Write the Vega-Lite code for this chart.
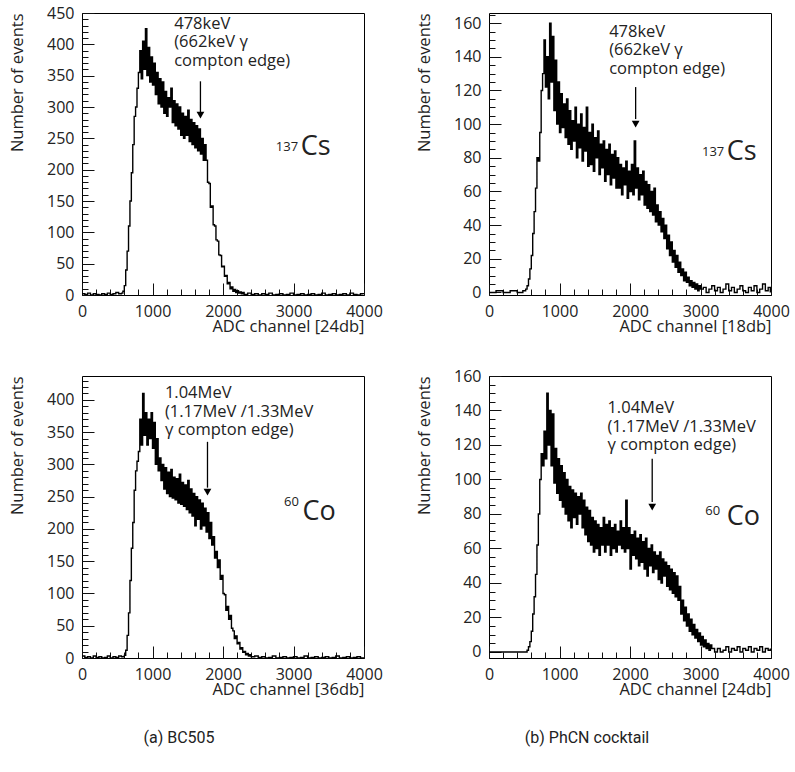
{
"$schema": "https://vega.github.io/schema/vega-lite/v6.json",
"background": "white",
"padding": {"left": 8, "top": 4, "right": 5, "bottom": 5},
"datasets": {
"p1": [{"x":0,"y":2},{"x":40,"y":1},{"x":80,"y":3},{"x":120,"y":0},{"x":160,"y":2},{"x":200,"y":1},{"x":240,"y":0},{"x":280,"y":2},{"x":320,"y":1},{"x":360,"y":3},{"x":400,"y":1},{"x":440,"y":2},{"x":480,"y":4},{"x":520,"y":2},{"x":560,"y":3},{"x":580,"y":6},
{"x":600,"y":15},{"x":620,"y":40},{"x":640,"y":70},{"x":660,"y":110},{"x":680,"y":150},{"x":700,"y":195},{"x":720,"y":240},{"x":740,"y":285},{"x":760,"y":300},{"x":780,"y":330},{"x":800,"y":355},
{"x":820,"y":390},{"x":840,"y":345},{"x":860,"y":405},{"x":880,"y":360},{"x":900,"y":425},{"x":920,"y":350},{"x":940,"y":395},{"x":960,"y":340},{"x":980,"y":380},{"x":1000,"y":335},
{"x":1020,"y":370},{"x":1040,"y":320},{"x":1060,"y":355},{"x":1080,"y":305},{"x":1100,"y":345},{"x":1120,"y":300},{"x":1140,"y":340},{"x":1160,"y":290},{"x":1180,"y":325},{"x":1200,"y":285},{"x":1220,"y":315},{"x":1240,"y":300},{"x":1260,"y":330},{"x":1280,"y":275},{"x":1300,"y":310},
{"x":1320,"y":270},{"x":1340,"y":305},{"x":1360,"y":265},{"x":1380,"y":300},{"x":1400,"y":255},{"x":1420,"y":290},{"x":1440,"y":250},{"x":1460,"y":285},{"x":1480,"y":255},{"x":1500,"y":295},{"x":1520,"y":245},{"x":1540,"y":280},{"x":1560,"y":240},{"x":1580,"y":275},{"x":1600,"y":235},
{"x":1620,"y":270},{"x":1640,"y":230},{"x":1660,"y":265},{"x":1680,"y":225},{"x":1700,"y":250},{"x":1720,"y":215},{"x":1740,"y":240},
{"x":1760,"y":215},{"x":1780,"y":180},{"x":1800,"y":178},{"x":1820,"y":140},{"x":1840,"y":142},{"x":1860,"y":112},{"x":1880,"y":110},{"x":1900,"y":88},{"x":1920,"y":86},{"x":1940,"y":64},{"x":1960,"y":63},{"x":1980,"y":45},{"x":2000,"y":46},{"x":2020,"y":30},{"x":2040,"y":31},{"x":2060,"y":18},{"x":2080,"y":20},{"x":2100,"y":10},{"x":2120,"y":13},{"x":2140,"y":6},{"x":2160,"y":9},{"x":2180,"y":4},{"x":2200,"y":7},{"x":2220,"y":3},{"x":2240,"y":5},{"x":2260,"y":2},{"x":2280,"y":4},{"x":2300,"y":1},
{"x":2350,"y":3},{"x":2400,"y":1},{"x":2450,"y":2},{"x":2500,"y":0},{"x":2550,"y":2},{"x":2600,"y":1},{"x":2650,"y":3},{"x":2700,"y":0},{"x":2750,"y":1},{"x":2800,"y":2},{"x":2850,"y":0},{"x":2900,"y":1},{"x":2950,"y":3},{"x":3000,"y":0},{"x":3050,"y":1},{"x":3100,"y":2},{"x":3150,"y":0},{"x":3200,"y":1},{"x":3250,"y":2},{"x":3300,"y":0},{"x":3350,"y":1},{"x":3400,"y":3},{"x":3450,"y":0},{"x":3500,"y":1},{"x":3550,"y":2},{"x":3600,"y":0},{"x":3650,"y":1},{"x":3700,"y":2},{"x":3750,"y":0},{"x":3800,"y":3},{"x":3850,"y":1},{"x":3900,"y":0},{"x":3950,"y":2},{"x":3990,"y":1}],
"p2": [{"x":0,"y":0},{"x":100,"y":1},{"x":200,"y":0},{"x":300,"y":1},{"x":400,"y":0},{"x":480,"y":1},{"x":520,"y":2},
{"x":540,"y":4},{"x":560,"y":8},{"x":580,"y":14},{"x":600,"y":22},{"x":620,"y":35},{"x":640,"y":48},{"x":660,"y":62},{"x":680,"y":80},{"x":700,"y":78},{"x":720,"y":95},{"x":740,"y":120},{"x":760,"y":130},
{"x":780,"y":150},{"x":800,"y":122},{"x":820,"y":140},{"x":840,"y":115},{"x":860,"y":160},{"x":880,"y":125},{"x":900,"y":152},{"x":920,"y":108},{"x":940,"y":138},{"x":960,"y":100},{"x":980,"y":125},
{"x":1000,"y":95},{"x":1020,"y":118},{"x":1040,"y":98},{"x":1060,"y":112},{"x":1080,"y":92},{"x":1100,"y":115},{"x":1120,"y":88},{"x":1140,"y":108},{"x":1160,"y":85},{"x":1180,"y":102},{"x":1200,"y":90},{"x":1220,"y":110},{"x":1240,"y":80},{"x":1260,"y":100},{"x":1280,"y":86},{"x":1300,"y":106},{"x":1320,"y":78},{"x":1340,"y":98},{"x":1360,"y":84},{"x":1380,"y":110},{"x":1400,"y":75},
{"x":1420,"y":95},{"x":1440,"y":76},{"x":1460,"y":100},{"x":1480,"y":72},{"x":1500,"y":92},{"x":1520,"y":80},{"x":1540,"y":96},{"x":1560,"y":70},{"x":1580,"y":88},{"x":1600,"y":74},{"x":1620,"y":90},{"x":1640,"y":66},{"x":1660,"y":85},{"x":1680,"y":70},{"x":1700,"y":88},{"x":1720,"y":64},{"x":1740,"y":82},{"x":1760,"y":68},{"x":1780,"y":84},{"x":1800,"y":62},
{"x":1820,"y":80},{"x":1840,"y":62},{"x":1860,"y":76},{"x":1880,"y":58},{"x":1900,"y":74},{"x":1920,"y":64},{"x":1940,"y":78},{"x":1960,"y":56},{"x":1980,"y":72},{"x":2000,"y":60},{"x":2020,"y":76},{"x":2040,"y":58},{"x":2060,"y":90},{"x":2080,"y":62},{"x":2100,"y":74},{"x":2120,"y":55},{"x":2140,"y":70},{"x":2160,"y":58},{"x":2180,"y":72},{"x":2200,"y":52},{"x":2220,"y":66},{"x":2240,"y":50},
{"x":2260,"y":64},{"x":2280,"y":48},{"x":2300,"y":60},{"x":2320,"y":46},{"x":2340,"y":62},{"x":2360,"y":42},{"x":2380,"y":52},{"x":2400,"y":40},{"x":2420,"y":48},{"x":2440,"y":36},{"x":2460,"y":44},{"x":2480,"y":32},{"x":2500,"y":40},{"x":2520,"y":26},{"x":2540,"y":34},{"x":2560,"y":22},{"x":2580,"y":30},{"x":2600,"y":18},{"x":2620,"y":25},{"x":2640,"y":15},{"x":2660,"y":22},{"x":2680,"y":12},{"x":2700,"y":18},{"x":2720,"y":10},{"x":2740,"y":14},{"x":2760,"y":7},{"x":2780,"y":12},{"x":2800,"y":6},{"x":2820,"y":9},{"x":2840,"y":4},{"x":2860,"y":7},{"x":2880,"y":3},{"x":2900,"y":6},{"x":2920,"y":2},{"x":2940,"y":5},{"x":2960,"y":1},{"x":2980,"y":4},{"x":3000,"y":2},
{"x":3040,"y":3},{"x":3080,"y":0},{"x":3120,"y":2},{"x":3160,"y":4},{"x":3200,"y":1},{"x":3240,"y":3},{"x":3280,"y":0},{"x":3320,"y":2},{"x":3360,"y":5},{"x":3400,"y":1},{"x":3440,"y":3},{"x":3480,"y":0},{"x":3520,"y":2},{"x":3560,"y":4},{"x":3600,"y":1},{"x":3640,"y":0},{"x":3680,"y":3},{"x":3720,"y":1},{"x":3760,"y":4},{"x":3800,"y":0},{"x":3840,"y":2},{"x":3880,"y":5},{"x":3920,"y":1},{"x":3960,"y":3},{"x":3990,"y":0}],
"p3": [{"x":0,"y":3},{"x":40,"y":1},{"x":80,"y":2},{"x":120,"y":0},{"x":160,"y":3},{"x":200,"y":1},{"x":240,"y":2},{"x":280,"y":0},{"x":320,"y":1},{"x":360,"y":3},{"x":400,"y":0},{"x":440,"y":2},{"x":480,"y":1},{"x":520,"y":3},{"x":560,"y":2},{"x":600,"y":4},
{"x":620,"y":12},{"x":640,"y":35},{"x":660,"y":70},{"x":680,"y":120},{"x":700,"y":170},{"x":720,"y":210},{"x":740,"y":260},{"x":760,"y":290},{"x":780,"y":305},{"x":800,"y":320},
{"x":820,"y":370},{"x":840,"y":330},{"x":860,"y":410},{"x":880,"y":345},{"x":900,"y":380},{"x":920,"y":330},{"x":940,"y":370},{"x":960,"y":340},{"x":980,"y":380},{"x":1000,"y":325},{"x":1020,"y":365},
{"x":1040,"y":300},{"x":1060,"y":340},{"x":1080,"y":290},{"x":1100,"y":310},
{"x":1120,"y":275},{"x":1140,"y":300},{"x":1160,"y":262},{"x":1180,"y":295},{"x":1200,"y":255},{"x":1220,"y":288},{"x":1240,"y":250},{"x":1260,"y":292},{"x":1280,"y":248},{"x":1300,"y":280},{"x":1320,"y":245},{"x":1340,"y":278},{"x":1360,"y":240},{"x":1380,"y":285},{"x":1400,"y":238},{"x":1420,"y":272},{"x":1440,"y":235},{"x":1460,"y":268},{"x":1480,"y":230},{"x":1500,"y":275},{"x":1520,"y":225},{"x":1540,"y":262},{"x":1560,"y":220},{"x":1580,"y":255},{"x":1600,"y":205},{"x":1620,"y":250},{"x":1640,"y":215},{"x":1660,"y":245},{"x":1680,"y":200},{"x":1700,"y":240},{"x":1720,"y":205},{"x":1740,"y":232},{"x":1760,"y":195},{"x":1780,"y":225},{"x":1800,"y":185},
{"x":1820,"y":210},{"x":1840,"y":175},{"x":1860,"y":188},{"x":1880,"y":155},{"x":1900,"y":165},{"x":1920,"y":140},{"x":1940,"y":152},{"x":1960,"y":122},{"x":1980,"y":128},{"x":2000,"y":100},{"x":2020,"y":98},{"x":2040,"y":74},{"x":2060,"y":80},{"x":2080,"y":60},{"x":2100,"y":66},{"x":2120,"y":46},{"x":2140,"y":42},{"x":2160,"y":30},{"x":2180,"y":34},{"x":2200,"y":22},{"x":2220,"y":24},{"x":2240,"y":14},{"x":2260,"y":16},{"x":2280,"y":9},{"x":2300,"y":10},{"x":2320,"y":5},{"x":2340,"y":7},{"x":2360,"y":3},{"x":2380,"y":5},{"x":2400,"y":2},
{"x":2450,"y":3},{"x":2500,"y":1},{"x":2550,"y":2},{"x":2600,"y":0},{"x":2650,"y":1},{"x":2700,"y":3},{"x":2750,"y":0},{"x":2800,"y":1},{"x":2850,"y":2},{"x":2900,"y":0},{"x":2950,"y":1},{"x":3000,"y":2},{"x":3050,"y":0},{"x":3100,"y":1},{"x":3150,"y":3},{"x":3200,"y":0},{"x":3250,"y":1},{"x":3300,"y":2},{"x":3350,"y":0},{"x":3400,"y":1},{"x":3450,"y":2},{"x":3500,"y":0},{"x":3550,"y":1},{"x":3600,"y":3},{"x":3650,"y":0},{"x":3700,"y":1},{"x":3750,"y":2},{"x":3800,"y":0},{"x":3850,"y":1},{"x":3900,"y":2},{"x":3950,"y":0},{"x":3990,"y":1}],
"p4": [{"x":0,"y":0},{"x":100,"y":0},{"x":200,"y":0},{"x":300,"y":0},{"x":400,"y":0},{"x":500,"y":0},{"x":540,"y":1},
{"x":560,"y":3},{"x":580,"y":6},{"x":600,"y":12},{"x":620,"y":22},{"x":640,"y":32},{"x":660,"y":45},{"x":680,"y":62},{"x":700,"y":80},{"x":720,"y":100},{"x":740,"y":115},{"x":760,"y":108},{"x":780,"y":128},
{"x":800,"y":112},{"x":820,"y":150},{"x":840,"y":120},{"x":860,"y":140},{"x":880,"y":108},{"x":900,"y":138},{"x":920,"y":98},{"x":940,"y":118},
{"x":960,"y":92},{"x":980,"y":112},{"x":1000,"y":88},{"x":1020,"y":108},{"x":1040,"y":84},{"x":1060,"y":104},{"x":1080,"y":80},{"x":1100,"y":100},{"x":1120,"y":76},{"x":1140,"y":96},{"x":1160,"y":72},{"x":1180,"y":94},{"x":1200,"y":78},{"x":1220,"y":92},{"x":1240,"y":74},{"x":1260,"y":90},{"x":1280,"y":80},{"x":1300,"y":92},{"x":1320,"y":72},{"x":1340,"y":88},
{"x":1360,"y":68},{"x":1380,"y":84},{"x":1400,"y":64},{"x":1420,"y":82},{"x":1440,"y":62},{"x":1460,"y":78},{"x":1480,"y":58},{"x":1500,"y":76},{"x":1520,"y":60},{"x":1540,"y":74},{"x":1560,"y":56},{"x":1580,"y":72},{"x":1600,"y":62},{"x":1620,"y":78},{"x":1640,"y":58},{"x":1660,"y":74},{"x":1680,"y":62},{"x":1700,"y":76},{"x":1720,"y":56},{"x":1740,"y":72},{"x":1760,"y":60},{"x":1780,"y":74},{"x":1800,"y":58},{"x":1820,"y":70},{"x":1840,"y":62},{"x":1860,"y":76},{"x":1880,"y":60},{"x":1900,"y":72},{"x":1920,"y":58},{"x":1940,"y":88},{"x":1960,"y":60},{"x":1980,"y":72},{"x":2000,"y":48},{"x":2020,"y":68},{"x":2040,"y":56},{"x":2060,"y":70},{"x":2080,"y":54},{"x":2100,"y":66},{"x":2120,"y":50},{"x":2140,"y":68},{"x":2160,"y":52},{"x":2180,"y":64},{"x":2200,"y":48},{"x":2220,"y":66},{"x":2240,"y":44},{"x":2260,"y":60},{"x":2280,"y":50},{"x":2300,"y":62},{"x":2320,"y":46},{"x":2340,"y":58},{"x":2360,"y":48},{"x":2380,"y":56},{"x":2400,"y":42},{"x":2420,"y":58},{"x":2440,"y":40},{"x":2460,"y":54},{"x":2480,"y":44},{"x":2500,"y":52},{"x":2520,"y":38},{"x":2540,"y":50},{"x":2560,"y":36},{"x":2580,"y":48},{"x":2600,"y":34},{"x":2620,"y":46},{"x":2640,"y":32},{"x":2660,"y":44},{"x":2680,"y":30},{"x":2700,"y":38},
{"x":2720,"y":22},{"x":2740,"y":30},{"x":2760,"y":18},{"x":2780,"y":26},{"x":2800,"y":15},{"x":2820,"y":22},{"x":2840,"y":12},{"x":2860,"y":19},{"x":2880,"y":10},{"x":2900,"y":16},{"x":2920,"y":8},{"x":2940,"y":13},{"x":2960,"y":6},{"x":2980,"y":11},{"x":3000,"y":4},{"x":3020,"y":9},{"x":3040,"y":3},{"x":3060,"y":7},{"x":3080,"y":2},{"x":3100,"y":5},{"x":3120,"y":1},{"x":3140,"y":4},{"x":3160,"y":2},{"x":3200,"y":0},
{"x":3240,"y":2},{"x":3280,"y":0},{"x":3320,"y":1},{"x":3360,"y":3},{"x":3400,"y":0},{"x":3440,"y":2},{"x":3480,"y":1},{"x":3520,"y":3},{"x":3560,"y":0},{"x":3600,"y":2},{"x":3640,"y":1},{"x":3680,"y":3},{"x":3720,"y":0},{"x":3760,"y":2},{"x":3800,"y":1},{"x":3840,"y":3},{"x":3880,"y":0},{"x":3920,"y":2},{"x":3960,"y":1},{"x":3990,"y":2}]
},
"columns": 2,
"spacing": {"row": 81, "column": 125},
"bounds": "flush",
"concat": [
{
 "width": 282, "height": 282,
 "resolve": {"axis": {"x": "independent", "y": "independent"}},
 "encoding": {
  "x": {"field": "x", "type": "quantitative", "scale": {"domain": [0, 4000], "nice": false, "zero": false}, "axis": null},
  "y": {"field": "y", "type": "quantitative", "scale": {"domain": [0, 450], "nice": false, "zero": false}, "axis": null}
 },
 "layer": [
  {"data": {"name": "p1"}, "mark": {"type": "line", "interpolate": "step-after", "color": "black", "strokeWidth": 1.4},
   "encoding": {
    "x": {"field": "x", "type": "quantitative", "scale": {"domain": [0, 4000], "nice": false, "zero": false},
     "axis": {"orient": "bottom", "title": "ADC channel [24db]", "format": "d", "values": [0,1000,2000,3000,4000], "tickSize": -12}},
    "y": {"field": "y", "type": "quantitative", "scale": {"domain": [0, 450], "nice": false, "zero": false},
     "axis": {"orient": "left", "title": "Number of events", "format": "d", "values": [0,50,100,150,200,250,300,350,400,450], "tickSize": -12}}}},
  {"data": {"values": [{"x": 1680, "y": 341, "y2": 292}]}, "mark": {"type": "rule", "color": "black", "strokeWidth": 1.3},
   "encoding": {
    "x": {"field": "x", "type": "quantitative", "scale": {"domain": [0, 4000], "nice": false, "zero": false},
     "axis": {"orient": "bottom", "title": null, "labels": false, "values": [0,200,400,600,800,1000,1200,1400,1600,1800,2000,2200,2400,2600,2800,3000,3200,3400,3600,3800,4000], "tickSize": -6}},
    "y": {"field": "y", "type": "quantitative", "scale": {"domain": [0, 450], "nice": false, "zero": false},
     "axis": {"orient": "left", "title": null, "labels": false, "values": [0,10,20,30,40,50,60,70,80,90,100,110,120,130,140,150,160,170,180,190,200,210,220,230,240,250,260,270,280,290,300,310,320,330,340,350,360,370,380,390,400,410,420,430,440,450], "tickSize": -6}},
    "y2": {"field": "y2"}}},
  {"data": {"values": [{"x": 1680, "y": 287}]}, "mark": {"type": "point", "shape": "triangle-down", "filled": true, "size": 60, "color": "black", "opacity": 1}},
  {"data": {"values": [{"x": 1308, "y": 446, "label": ["478keV", "(662keV γ", "compton edge)"]}]}, "mark": {"type": "text", "align": "left", "baseline": "top", "fontSize": 16.5, "lineHeight": 18.5}, "encoding": {"text": {"field": "label"}}},
  {"data": {"values": [{"x": 3103, "y": 223, "label": "Cs"}]}, "mark": {"type": "text", "align": "left", "baseline": "alphabetic", "fontSize": 27}, "encoding": {"text": {"field": "label"}}},
  {"data": {"values": [{"x": 2749, "y": 246, "label": "137"}]}, "mark": {"type": "text", "align": "left", "baseline": "top", "fontSize": 13}, "encoding": {"text": {"field": "label"}}}
 ]
},
{
 "width": 282, "height": 282,
 "resolve": {"axis": {"x": "independent", "y": "independent"}},
 "encoding": {
  "x": {"field": "x", "type": "quantitative", "scale": {"domain": [0, 4000], "nice": false, "zero": false}, "axis": null},
  "y": {"field": "y", "type": "quantitative", "scale": {"domain": [-1.5, 166], "nice": false, "zero": false}, "axis": null}
 },
 "layer": [
  {"data": {"name": "p2"}, "mark": {"type": "line", "interpolate": "step-after", "color": "black", "strokeWidth": 1.4},
   "encoding": {
    "x": {"field": "x", "type": "quantitative", "scale": {"domain": [0, 4000], "nice": false, "zero": false},
     "axis": {"orient": "bottom", "title": "ADC channel [18db]", "format": "d", "values": [0,1000,2000,3000,4000], "tickSize": -12}},
    "y": {"field": "y", "type": "quantitative", "scale": {"domain": [-1.5, 166], "nice": false, "zero": false},
     "axis": {"orient": "left", "title": "Number of events", "format": "d", "values": [0,20,40,60,80,100,120,140,160], "tickSize": -12}}}},
  {"data": {"values": [{"x": 2080, "y": 122, "y2": 103}]}, "mark": {"type": "rule", "color": "black", "strokeWidth": 1.3},
   "encoding": {
    "x": {"field": "x", "type": "quantitative", "scale": {"domain": [0, 4000], "nice": false, "zero": false},
     "axis": {"orient": "bottom", "title": null, "labels": false, "values": [0,200,400,600,800,1000,1200,1400,1600,1800,2000,2200,2400,2600,2800,3000,3200,3400,3600,3800,4000], "tickSize": -6}},
    "y": {"field": "y", "type": "quantitative", "scale": {"domain": [-1.5, 166], "nice": false, "zero": false},
     "axis": {"orient": "left", "title": null, "labels": false, "values": [0,5,10,15,20,25,30,35,40,45,50,55,60,65,70,75,80,85,90,95,100,105,110,115,120,125,130,135,140,145,150,155,160,165], "tickSize": -6}},
    "y2": {"field": "y2"}}},
  {"data": {"values": [{"x": 2080, "y": 100}]}, "mark": {"type": "point", "shape": "triangle-down", "filled": true, "size": 60, "color": "black", "opacity": 1}},
  {"data": {"values": [{"x": 1704, "y": 159.5, "label": ["478keV", "(662keV γ", "compton edge)"]}]}, "mark": {"type": "text", "align": "left", "baseline": "top", "fontSize": 16.5, "lineHeight": 18.5}, "encoding": {"text": {"field": "label"}}},
  {"data": {"values": [{"x": 3374, "y": 78.5, "label": "Cs"}]}, "mark": {"type": "text", "align": "left", "baseline": "alphabetic", "fontSize": 27}, "encoding": {"text": {"field": "label"}}},
  {"data": {"values": [{"x": 3021, "y": 87, "label": "137"}]}, "mark": {"type": "text", "align": "left", "baseline": "top", "fontSize": 13}, "encoding": {"text": {"field": "label"}}}
 ]
},
{
 "width": 282, "height": 282,
 "title": {"text": "(a) BC505", "orient": "bottom", "anchor": "middle", "frame": "group", "dx": -44, "offset": 32, "font": "Roboto", "fontSize": 16, "fontWeight": "normal", "color": "#222"},
 "resolve": {"axis": {"x": "independent", "y": "independent"}},
 "encoding": {
  "x": {"field": "x", "type": "quantitative", "scale": {"domain": [0, 4000], "nice": false, "zero": false}, "axis": null},
  "y": {"field": "y", "type": "quantitative", "scale": {"domain": [0, 437], "nice": false, "zero": false}, "axis": null}
 },
 "layer": [
  {"data": {"name": "p3"}, "mark": {"type": "line", "interpolate": "step-after", "color": "black", "strokeWidth": 1.4},
   "encoding": {
    "x": {"field": "x", "type": "quantitative", "scale": {"domain": [0, 4000], "nice": false, "zero": false},
     "axis": {"orient": "bottom", "title": "ADC channel [36db]", "format": "d", "values": [0,1000,2000,3000,4000], "tickSize": -12}},
    "y": {"field": "y", "type": "quantitative", "scale": {"domain": [0, 437], "nice": false, "zero": false},
     "axis": {"orient": "left", "title": "Number of events", "format": "d", "values": [0,50,100,150,200,250,300,350,400], "tickSize": -12}}}},
  {"data": {"values": [{"x": 1780, "y": 335, "y2": 264}]}, "mark": {"type": "rule", "color": "black", "strokeWidth": 1.3},
   "encoding": {
    "x": {"field": "x", "type": "quantitative", "scale": {"domain": [0, 4000], "nice": false, "zero": false},
     "axis": {"orient": "bottom", "title": null, "labels": false, "values": [0,200,400,600,800,1000,1200,1400,1600,1800,2000,2200,2400,2600,2800,3000,3200,3400,3600,3800,4000], "tickSize": -6}},
    "y": {"field": "y", "type": "quantitative", "scale": {"domain": [0, 437], "nice": false, "zero": false},
     "axis": {"orient": "left", "title": null, "labels": false, "values": [0,10,20,30,40,50,60,70,80,90,100,110,120,130,140,150,160,170,180,190,200,210,220,230,240,250,260,270,280,290,300,310,320,330,340,350,360,370,380,390,400,410,420,430], "tickSize": -6}},
    "y2": {"field": "y2"}}},
  {"data": {"values": [{"x": 1780, "y": 257}]}, "mark": {"type": "point", "shape": "triangle-down", "filled": true, "size": 60, "color": "black", "opacity": 1}},
  {"data": {"values": [{"x": 1176, "y": 423, "label": ["1.04MeV", "(1.17MeV /1.33MeV", "γ compton edge)"]}]}, "mark": {"type": "text", "align": "left", "baseline": "top", "fontSize": 16.5, "lineHeight": 18.5}, "encoding": {"text": {"field": "label"}}},
  {"data": {"values": [{"x": 3126, "y": 214, "label": "Co"}]}, "mark": {"type": "text", "align": "left", "baseline": "alphabetic", "fontSize": 27}, "encoding": {"text": {"field": "label"}}},
  {"data": {"values": [{"x": 2867, "y": 251, "label": "60"}]}, "mark": {"type": "text", "align": "left", "baseline": "top", "fontSize": 13}, "encoding": {"text": {"field": "label"}}}
 ]
},
{
 "width": 282, "height": 282,
 "title": {"text": "(b) PhCN cocktail", "orient": "bottom", "anchor": "middle", "frame": "group", "dx": -43, "offset": 32, "font": "Roboto", "fontSize": 16, "fontWeight": "normal", "color": "#222"},
 "resolve": {"axis": {"x": "independent", "y": "independent"}},
 "encoding": {
  "x": {"field": "x", "type": "quantitative", "scale": {"domain": [0, 4000], "nice": false, "zero": false}, "axis": null},
  "y": {"field": "y", "type": "quantitative", "scale": {"domain": [-3.5, 160], "nice": false, "zero": false}, "axis": null}
 },
 "layer": [
  {"data": {"name": "p4"}, "mark": {"type": "line", "interpolate": "step-after", "color": "black", "strokeWidth": 1.4},
   "encoding": {
    "x": {"field": "x", "type": "quantitative", "scale": {"domain": [0, 4000], "nice": false, "zero": false},
     "axis": {"orient": "bottom", "title": "ADC channel [24db]", "format": "d", "values": [0,1000,2000,3000,4000], "tickSize": -12}},
    "y": {"field": "y", "type": "quantitative", "scale": {"domain": [-3.5, 160], "nice": false, "zero": false},
     "axis": {"orient": "left", "title": "Number of events", "format": "d", "values": [0,20,40,60,80,100,120,140,160], "tickSize": -12}}}},
  {"data": {"values": [{"x": 2315, "y": 112, "y2": 87}]}, "mark": {"type": "rule", "color": "black", "strokeWidth": 1.3},
   "encoding": {
    "x": {"field": "x", "type": "quantitative", "scale": {"domain": [0, 4000], "nice": false, "zero": false},
     "axis": {"orient": "bottom", "title": null, "labels": false, "values": [0,200,400,600,800,1000,1200,1400,1600,1800,2000,2200,2400,2600,2800,3000,3200,3400,3600,3800,4000], "tickSize": -6}},
    "y": {"field": "y", "type": "quantitative", "scale": {"domain": [-3.5, 160], "nice": false, "zero": false},
     "axis": {"orient": "left", "title": null, "labels": false, "values": [0,5,10,15,20,25,30,35,40,45,50,55,60,65,70,75,80,85,90,95,100,105,110,115,120,125,130,135,140,145,150,155,160], "tickSize": -6}},
    "y2": {"field": "y2"}}},
  {"data": {"values": [{"x": 2315, "y": 84}]}, "mark": {"type": "point", "shape": "triangle-down", "filled": true, "size": 60, "color": "black", "opacity": 1}},
  {"data": {"values": [{"x": 1680, "y": 146, "label": ["1.04MeV", "(1.17MeV /1.33MeV", "γ compton edge)"]}]}, "mark": {"type": "text", "align": "left", "baseline": "top", "fontSize": 16.5, "lineHeight": 18.5}, "encoding": {"text": {"field": "label"}}},
  {"data": {"values": [{"x": 3374, "y": 73.5, "label": "Co"}]}, "mark": {"type": "text", "align": "left", "baseline": "alphabetic", "fontSize": 27}, "encoding": {"text": {"field": "label"}}},
  {"data": {"values": [{"x": 3068, "y": 85, "label": "60"}]}, "mark": {"type": "text", "align": "left", "baseline": "top", "fontSize": 13}, "encoding": {"text": {"field": "label"}}}
 ]
}
],
"config": {
 "view": {"stroke": "black", "strokeWidth": 1},
 "axis": {"domain": false, "grid": false, "tickColor": "#111", "tickWidth": 1, "labelPadding": 20, "labelFont": "Open Sans", "labelFontSize": 16, "labelColor": "#222", "titleFont": "Open Sans", "titleFontSize": 16.5, "titleFontWeight": "normal", "titleColor": "#222", "labelFlush": false, "labelOverlap": false},
 "axisX": {"titleX": 282, "titleY": 31.5, "titleAlign": "right", "titleBaseline": "middle"},
 "axisY": {"titleX": -65, "titleY": 0, "titleAlign": "right", "titleBaseline": "middle", "titleAngle": 270},
 "text": {"font": "Open Sans", "color": "#222"}
}
}
